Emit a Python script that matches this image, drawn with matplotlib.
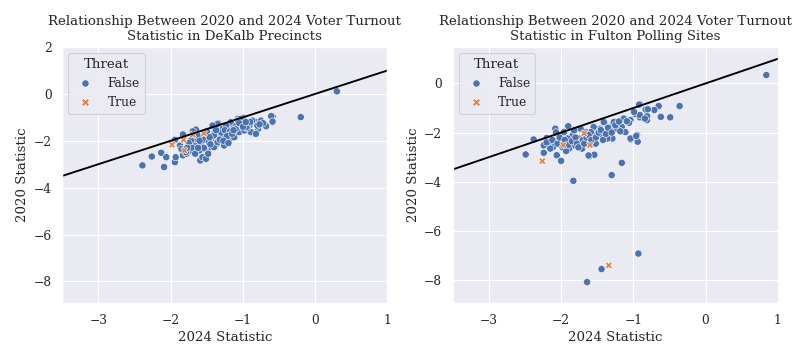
import pandas as pd
import matplotlib
matplotlib.use("Agg")
import matplotlib.pyplot as plt
import seaborn as sns

# DeKalb precincts: 2024 statistic (x) vs 2020 statistic (y)
dekalb_false_x = [0.30, -0.20, -2.39, -2.26, -2.13, -2.09, -2.06, -1.94, -1.93, -1.94,
                  -1.87, -1.83, -1.83, -1.78, -1.70, -1.64, -1.59, -1.52, -1.48, -1.39,
                  -1.34, -1.39, -0.59, -0.59, -0.68, -0.75, -0.79, -0.86, -0.82, -0.93,
                  -1.00, -1.07, -0.98, -0.84, -1.65, -1.67, -1.65, -1.58, -1.56, -1.51,
                  -1.49, -1.44, -1.42, -1.44, -1.53, -1.60, -1.72, -1.76, -1.39, -1.34,
                  -1.36, -1.35, -1.51, -1.57, -1.72, -1.35, -1.40, -1.40, -1.35, -1.28,
                  -1.26, -1.21, -1.19, -1.14, -1.12, -1.07, -1.05, -1.03, -0.98, -0.91,
                  -0.89, -0.87, -0.82, -0.80, -0.75, -0.68, -0.61, -0.59, -1.42, -1.30,
                  -1.17, -1.00, -0.94, -1.10, -1.23, -1.62, -1.55, -1.47, -1.30, -1.25,
                  -1.18, -1.10, -1.05, -0.95, -0.90, -1.50, -1.60, -1.75, -1.70, -1.45,
                  -1.32, -1.22, -1.15, -1.00, -0.72, -1.79, -1.69, -1.85, -1.77, -1.66,
                  -1.54, -1.46, -1.37, -1.27, -1.13, -0.96, -0.77, -1.62, -1.48, -1.20]
dekalb_false_y = [0.11, -0.99, -3.05, -2.67, -2.51, -3.12, -2.70, -2.91, -2.70, -1.96,
                  -2.20, -1.73, -2.62, -2.55, -1.59, -1.67, -2.84, -2.72, -2.41, -2.27,
                  -1.25, -1.35, -0.96, -1.21, -1.35, -1.13, -1.49, -1.13, -1.21, -1.56,
                  -1.02, -1.06, -1.28, -1.70, -1.52, -2.20, -1.92, -2.13, -2.70, -2.77,
                  -2.41, -1.92, -1.77, -2.27, -2.34, -2.41, -2.41, -2.20, -1.63, -1.77,
                  -2.13, -1.35, -1.77, -1.85, -1.99, -1.28, -1.77, -2.27, -2.06, -1.49,
                  -2.20, -1.74, -1.99, -1.49, -1.85, -1.14, -1.63, -1.06, -1.56, -1.35,
                  -1.63, -1.14, -1.70, -1.35, -1.14, -1.38, -0.95, -1.18, -1.35, -1.85,
                  -1.21, -1.28, -1.46, -1.38, -1.35, -1.80, -1.95, -2.05, -1.65, -1.55,
                  -1.60, -1.50, -1.25, -1.40, -1.20, -1.60, -2.00, -2.10, -2.30, -2.15,
                  -1.95, -1.80, -1.70, -1.40, -1.25, -2.48, -1.60, -2.35, -2.30, -2.55,
                  -2.30, -1.85, -1.55, -2.00, -1.55, -1.20, -1.30, -2.30, -2.55, -2.10]
dekalb_true_x = [-1.98, -1.82, -1.81, -1.69, -1.54]
dekalb_true_y = [-2.17, -1.96, -2.41, -1.74, -1.68]

# Fulton polling sites
fulton_false_x = [0.84, -0.36, -0.49, -0.62, -0.65, -0.71, -0.81, -0.81, -0.83, -0.91,
                  -0.91, -0.97, -0.95, -0.94, -1.04, -1.04, -1.06, -1.15, -1.17, -1.14,
                  -1.16, -1.30, -1.83, -0.93, -1.44, -1.64, -2.49, -2.38, -2.24, -2.24,
                  -2.20, -2.08, -2.07, -2.06, -2.00, -1.90, -1.61, -1.54, -1.57, -1.40,
                  -1.28, -1.26, -1.87, -1.91, -2.11, -2.16, -0.92, -0.80, -0.91, -0.84,
                  -0.99, -1.13, -1.16, -1.11, -1.04, -0.96, -1.27, -1.32, -1.29, -1.41,
                  -1.46, -1.43, -1.55, -1.55, -1.52, -1.59, -1.66, -1.73, -1.75, -1.82,
                  -1.84, -1.82, -1.91, -1.96, -1.89, -1.71, -1.62, -1.73, -1.36, -1.23,
                  -1.09, -2.20, -2.15, -2.12, -2.05, -2.02, -1.98, -1.95, -1.93, -1.90,
                  -1.85, -1.80, -1.78, -1.76, -1.70, -1.68, -1.65, -1.62, -1.58, -1.52,
                  -1.48, -1.45, -1.42, -1.38, -1.35, -1.30, -1.25, -1.20, -1.18]
fulton_false_y = [0.34, -0.92, -1.38, -1.36, -0.92, -1.08, -1.49, -1.33, -1.06, -0.84,
                  -1.38, -1.25, -2.10, -2.37, -2.28, -1.49, -1.60, -1.49, -1.83, -1.42,
                  -3.23, -3.73, -3.96, -6.92, -7.55, -8.08, -2.89, -2.28, -2.52, -2.82,
                  -2.22, -1.84, -1.99, -2.92, -3.15, -1.74, -2.96, -2.90, -1.93, -1.60,
                  -1.63, -1.56, -2.47, -2.37, -2.58, -2.37, -0.86, -1.05, -1.29, -1.43,
                  -1.16, -1.43, -1.77, -1.98, -2.24, -2.14, -1.57, -1.91, -2.24, -1.57,
                  -1.84, -2.11, -1.77, -2.11, -2.45, -1.98, -1.98, -1.84, -2.24, -2.52,
                  -2.11, -1.91, -2.24, -1.98, -2.65, -2.65, -2.93, -2.38, -2.24, -1.84,
                  -1.54, -2.40, -2.65, -2.30, -2.45, -2.20, -2.60, -2.30, -2.75, -2.50,
                  -2.35, -2.20, -2.45, -2.60, -2.30, -2.45, -2.20, -2.10, -2.30, -2.20,
                  -2.00, -1.90, -2.30, -2.05, -1.80, -2.00, -1.70, -1.55, -1.95]
fulton_true_x = [-2.26, -1.97, -1.68, -1.60, -1.34]
fulton_true_y = [-3.16, -2.51, -2.03, -2.51, -7.40]


def make_frame(fx, fy, tx, ty):
    df = pd.DataFrame({
        '2024': fx + tx,
        '2020': fy + ty,
        'Threat': [False] * len(fx) + [True] * len(tx),
    })
    return df


sns.set_theme(style="darkgrid", font="DejaVu Serif")

fig, axes = plt.subplots(1, 2, figsize=(797 / 80, 359 / 80), dpi=80)
plt.subplots_adjust(left=0.078, right=0.976, bottom=0.156, top=0.869, wspace=0.2)

panels = [
    (make_frame(dekalb_false_x, dekalb_false_y, dekalb_true_x, dekalb_true_y),
     'DeKalb Precincts', (-8.92, 2.0)),
    (make_frame(fulton_false_x, fulton_false_y, fulton_true_x, fulton_true_y),
     'Fulton Polling Sites', (-8.93, 1.48)),
]

for ax, (df, name, ylim) in zip(axes, panels):
    sns.scatterplot(data=df, x='2024', y='2020', hue='Threat', style='Threat', ax=ax, s=42)
    ax.axline((0, 0), slope=1, color='black', linewidth=1.7)
    ax.set_xlim(-3.5, 1)
    ax.set_ylim(*ylim)
    ax.set_title(f'Relationship Between 2020 and 2024 Voter Turnout\nStatistic in {name}')
    ax.set_xlabel('2024 Statistic')
    ax.set_ylabel('2020 Statistic')
    ax.legend(title='Threat', loc='upper left')

axes[1].set_position([0.568, 0.156, 0.408, 0.713])

plt.savefig('out.png', dpi=80)
